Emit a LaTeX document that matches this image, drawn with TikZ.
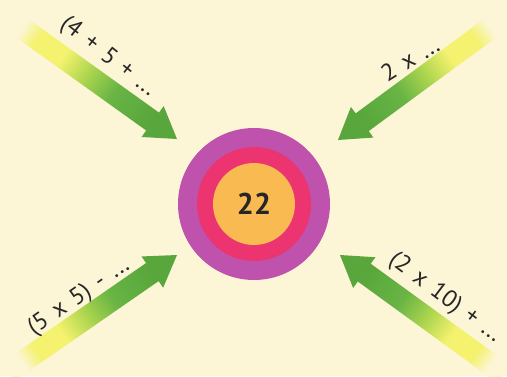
\documentclass[tikz,border=0pt]{standalone}
\usepackage{fontspec}
\setmainfont{PT Sans}
\newfontfamily\labelfont{PT Sans}[WordSpace=1.5]
\usepackage{tikz}
\usetikzlibrary{calc, shapes.geometric, positioning}

\definecolor{cream}{RGB}{252,245,214}
\definecolor{ringpurple}{RGB}{190,82,172}
\definecolor{ringred}{RGB}{236,52,112}
\definecolor{ringorange}{RGB}{250,186,82}
\definecolor{arrowyellow}{RGB}{244,242,110}
\definecolor{arrowlime}{RGB}{170,212,78}
\definecolor{arrowgreen}{RGB}{104,180,68}
\definecolor{arrowdark}{RGB}{88,166,60}

\pgfdeclarehorizontalshading{arrowfade}{100bp}{
  color(0bp)=(cream); color(24bp)=(cream); color(30bp)=(arrowyellow);
  color(40bp)=(arrowyellow); color(50bp)=(arrowlime); color(60bp)=(arrowgreen);
  color(75bp)=(arrowdark); color(100bp)=(arrowdark)}

% tail, tip, shading angle
\newcommand\fatarrow[3]{%
  \coordinate (#1-base) at ($(#2)!30pt!(#1)$);
  \shade[arrowbody, shading angle=#3]
    ($(#1)!11pt!90:(#2)$) -- ($(#1-base)!11pt!-90:(#1)$)
    -- ($(#1-base)!19pt!-90:(#1)$) -- (#2)
    -- ($(#1-base)!19pt!90:(#1)$) -- ($(#1-base)!11pt!90:(#1)$)
    -- ($(#1)!11pt!-90:(#2)$) -- cycle;
}

\begin{document}
\begin{tikzpicture}[
    x=1pt, y=-1pt,
    every node/.style={text=black!85},
    lbl/.style={font=\labelfont\fontsize{24}{24}\selectfont},
    arrowbody/.style={shading=arrowfade},
    ring/.style={circle, inner sep=0pt}
]

% Background
\fill[cream] (0,0) rectangle (507,376);
\useasboundingbox (0,0) rectangle (507,376);

% Target
\node[ring, fill=ringpurple, minimum size=152pt] (outer) at (254,204) {};
\node[ring, fill=ringred, minimum size=114pt] (middle) at (outer) {};
\node[ring, fill=ringorange, minimum size=82pt, font=\fontsize{30}{30}\selectfont\bfseries] (goal) at (outer) {22};

% Arrow ends
\coordinate (tl) at (8,18);
\coordinate (tlTip) at (177,139);
\coordinate (tr) at (504,18);
\coordinate (trTip) at (338,140);
\coordinate (bl) at (8,372);
\coordinate (blTip) at (177,255);
\coordinate (br) at (504,374);
\coordinate (brTip) at (340,255);

% Arrows
\fatarrow{tl}{tlTip}{-35}
\fatarrow{tr}{trTip}{-145}
\fatarrow{bl}{blTip}{35}
\fatarrow{br}{brTip}{145}

% Labels
\node[lbl, rotate=-38] (sumA) at (108,57) {(4 + 5 + ...};
\node[lbl, rotate=32] (prodB) at (410,59) {2 x ...};
\node[lbl, rotate=35] (diffC) at (79,297) {(5 x 5) - ...};
\node[lbl, rotate=-37] (sumD) at (445,298) {(2 x 10) + ...};

\end{tikzpicture}
\end{document}
